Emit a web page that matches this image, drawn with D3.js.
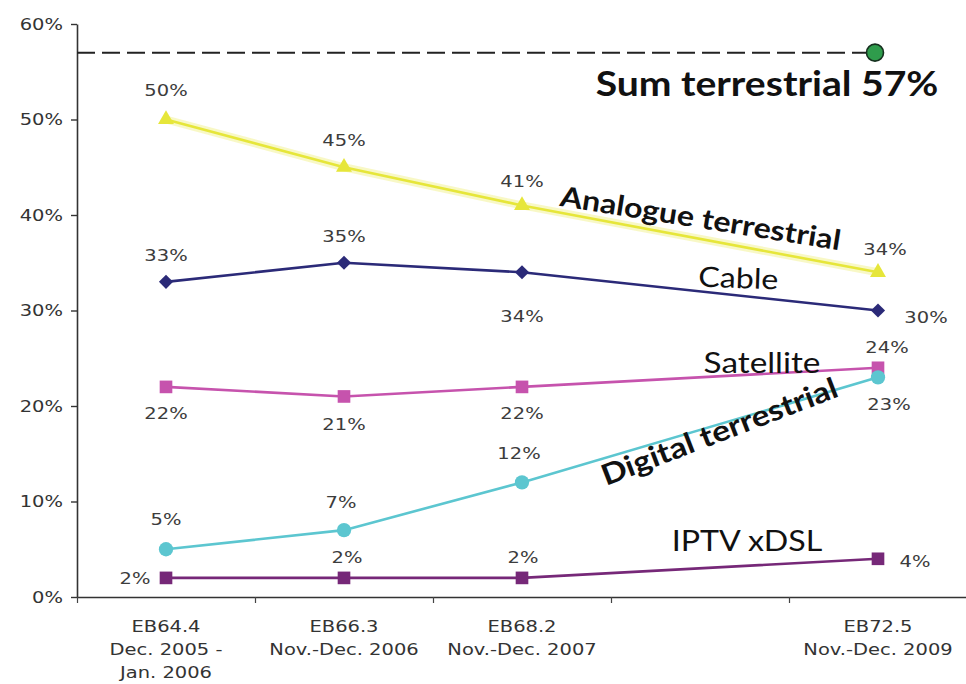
<!DOCTYPE html>
<html>
<head>
<meta charset="utf-8">
<script src="https://cdn.jsdelivr.net/npm/d3@7"></script>
<style>
  html, body { margin: 0; padding: 0; background: #fff; }
  svg { display: block; }
</style>
</head>
<body>
<script>
// Survey waves on the x axis; one empty slot keeps the spacing for the year without a wave.
const slots = ["EB64.4", "EB66.3", "EB68.2", "gap", "EB72.5"];
const waves = ["EB64.4", "EB66.3", "EB68.2", "EB72.5"];
const periods = [
  ["Dec. 2005 -", "Jan. 2006"],
  ["Nov.-Dec. 2006"],
  ["Nov.-Dec. 2007"],
  ["Nov.-Dec. 2009"]
];
const yTicks = [0, 10, 20, 30, 40, 50, 60];

// Share of TV households (%) per reception mode
const analogue  = [50, 45, 41, 34];
const cable     = [33, 35, 34, 30];
const satellite = [22, 21, 22, 24];
const digital   = [5, 7, 12, 23];
const iptv      = [2, 2, 2, 4];

const W = 966, H = 684;
const STRETCH = 1.3;      // wide lettering for the small labels
const BIG_STRETCH = 1.15; // wide lettering for the series names

const svg = d3.select("body").append("svg")
  .attr("width", W).attr("height", H)
  .style("font-family", "'DejaVu Sans', sans-serif");

const x = d3.scaleBand().domain(slots).range([77, 967]);
const cx = k => x(k) + x.bandwidth() / 2;
const y = d3.scaleLinear().domain([0, 60]).range([597, 24]);

// ---- axes ----
const yAxis = svg.append("g").attr("transform", `translate(${x.range()[0]},0)`)
  .call(d3.axisLeft(y).tickValues(yTicks).tickFormat(d => d + "%").tickSize(6).tickSizeOuter(0));
yAxis.select(".domain").attr("stroke", "#333").attr("stroke-width", 1.6);
yAxis.selectAll(".tick line").attr("stroke", "#333").attr("stroke-width", 1.4);
yAxis.selectAll(".tick text")
  .attr("x", 0).attr("dy", "0.36em")
  .attr("transform", `translate(-14,0) scale(${STRETCH},1)`)
  .attr("font-size", 15).attr("fill", "#333")
  .attr("font-family", "'DejaVu Sans', sans-serif");

// tick marks sit on the band boundaries
const edge = d3.scaleLinear().domain([0, slots.length]).range(x.range());
const xAxis = svg.append("g").attr("transform", `translate(0,${y(0)})`)
  .call(d3.axisBottom(edge).ticks(slots.length).tickFormat("").tickSize(6).tickSizeOuter(0));
xAxis.select(".domain").attr("stroke", "#333").attr("stroke-width", 1.6);
xAxis.selectAll(".tick line").attr("stroke", "#444").attr("stroke-width", 1.2);

// category labels
waves.forEach((w, i) => {
  const lines = [w].concat(periods[i]);
  lines.forEach((ln, j) => {
    svg.append("text")
      .attr("transform", `translate(${cx(w)},${632 + j * 23}) scale(${STRETCH},1)`)
      .attr("text-anchor", "middle")
      .attr("font-size", 15).attr("fill", "#333")
      .text(ln);
  });
});

// ---- series ----
const series = [
  { name: "analogue",  values: analogue,  color: "#e6e63a", symbol: d3.symbolTriangle, size: 110, rot: 0,
    offsets: [[0, -29], [0, -27], [0, -24], [7, -23]] },
  { name: "cable",     values: cable,     color: "#2b2a78", symbol: d3.symbolSquare, size: 100, rot: 45,
    offsets: [[0, -26], [0, -26], [0, 44], [48, 7]] },
  { name: "satellite", values: satellite, color: "#c653ad", symbol: d3.symbolSquare, size: 160, rot: 0,
    offsets: [[0, 27], [0, 28], [0, 27], [9, -20]] },
  { name: "digital",   values: digital,   color: "#5cc6d0", symbol: d3.symbolCircle, size: 160, rot: 0,
    offsets: [[0, -30], [-3, -28], [-3, -29], [11, 27]] },
  { name: "iptv",      values: iptv,      color: "#762878", symbol: d3.symbolSquare, size: 160, rot: 0,
    offsets: [[-31, 1], [3, -20], [1, -20], [37, 3]] }
];

const line = d3.line().x((d, i) => cx(waves[i])).y(d => y(d));

// soft halo under the yellow line
svg.append("path").datum(analogue)
  .attr("d", line).attr("fill", "none")
  .attr("stroke", "#f3f3a0").attr("stroke-width", 8).attr("opacity", 0.6);

series.forEach(s => {
  const g = svg.append("g").attr("class", "series-" + s.name);
  g.append("path").datum(s.values)
    .attr("d", line).attr("fill", "none")
    .attr("stroke", s.color).attr("stroke-width", 2.6).attr("stroke-linejoin", "round");
  g.selectAll("path.mark").data(s.values).join("path")
    .attr("class", "mark")
    .attr("d", d3.symbol(s.symbol, s.size))
    .attr("transform", (d, i) => `translate(${cx(waves[i])},${y(d)}) rotate(${s.rot})`)
    .attr("fill", s.color);
  g.selectAll("text").data(s.values).join("text")
    .attr("transform", (d, i) =>
      `translate(${cx(waves[i]) + s.offsets[i][0]},${y(d) + s.offsets[i][1] + 5.5}) scale(${STRETCH},1)`)
    .attr("text-anchor", "middle")
    .attr("font-size", 15).attr("fill", "#3c3c3c")
    .text(d => d + "%");
});

// ---- series names ----
const names = [
  { text: "Analogue terrestrial", x: 699, y: 228, rot: 9,   size: 28, weight: 700 },
  { text: "Cable",                x: 738, y: 288, rot: 2,   size: 28, weight: 400 },
  { text: "Satellite",            x: 762, y: 373, rot: 0,   size: 29, weight: 400 },
  { text: "Digital terrestrial",  x: 723, y: 441, rot: -21, size: 29, weight: 700 },
  { text: "IPTV xDSL",            x: 747, y: 551, rot: 0,   size: 28, weight: 400 }
];
names.forEach(n => {
  svg.append("text")
    .attr("transform", `translate(${n.x},${n.y}) rotate(${n.rot}) scale(${BIG_STRETCH},1)`)
    .attr("text-anchor", "middle")
    .attr("font-family", "Lato, 'Open Sans', sans-serif")
    .attr("font-size", n.size).attr("font-weight", n.weight)
    .attr("fill", "#111")
    .text(n.text);
});

// ---- sum of terrestrial reception (analogue + digital, last wave) ----
const last = waves.length - 1;
const sumTerrestrial = analogue[last] + digital[last];
const sumY = y(sumTerrestrial);
svg.append("line")
  .attr("x1", x.range()[0]).attr("x2", cx(waves[last]) - 8)
  .attr("y1", sumY).attr("y2", sumY)
  .attr("stroke", "#222").attr("stroke-width", 2)
  .attr("stroke-dasharray", "18 7");
svg.append("circle")
  .attr("cx", cx(waves[last]) - 3).attr("cy", sumY).attr("r", 8.5)
  .attr("fill", "#2f9c4c").attr("stroke", "#16301f").attr("stroke-width", 1.6);
svg.append("text")
  .attr("transform", `translate(767,${sumY + 43}) scale(${BIG_STRETCH},1)`)
  .attr("text-anchor", "middle")
  .attr("font-family", "Lato, 'Open Sans', sans-serif")
  .attr("font-size", 34).attr("font-weight", 700)
  .attr("fill", "#111")
  .text(`Sum terrestrial ${sumTerrestrial}%`);
</script>
</body>
</html>
